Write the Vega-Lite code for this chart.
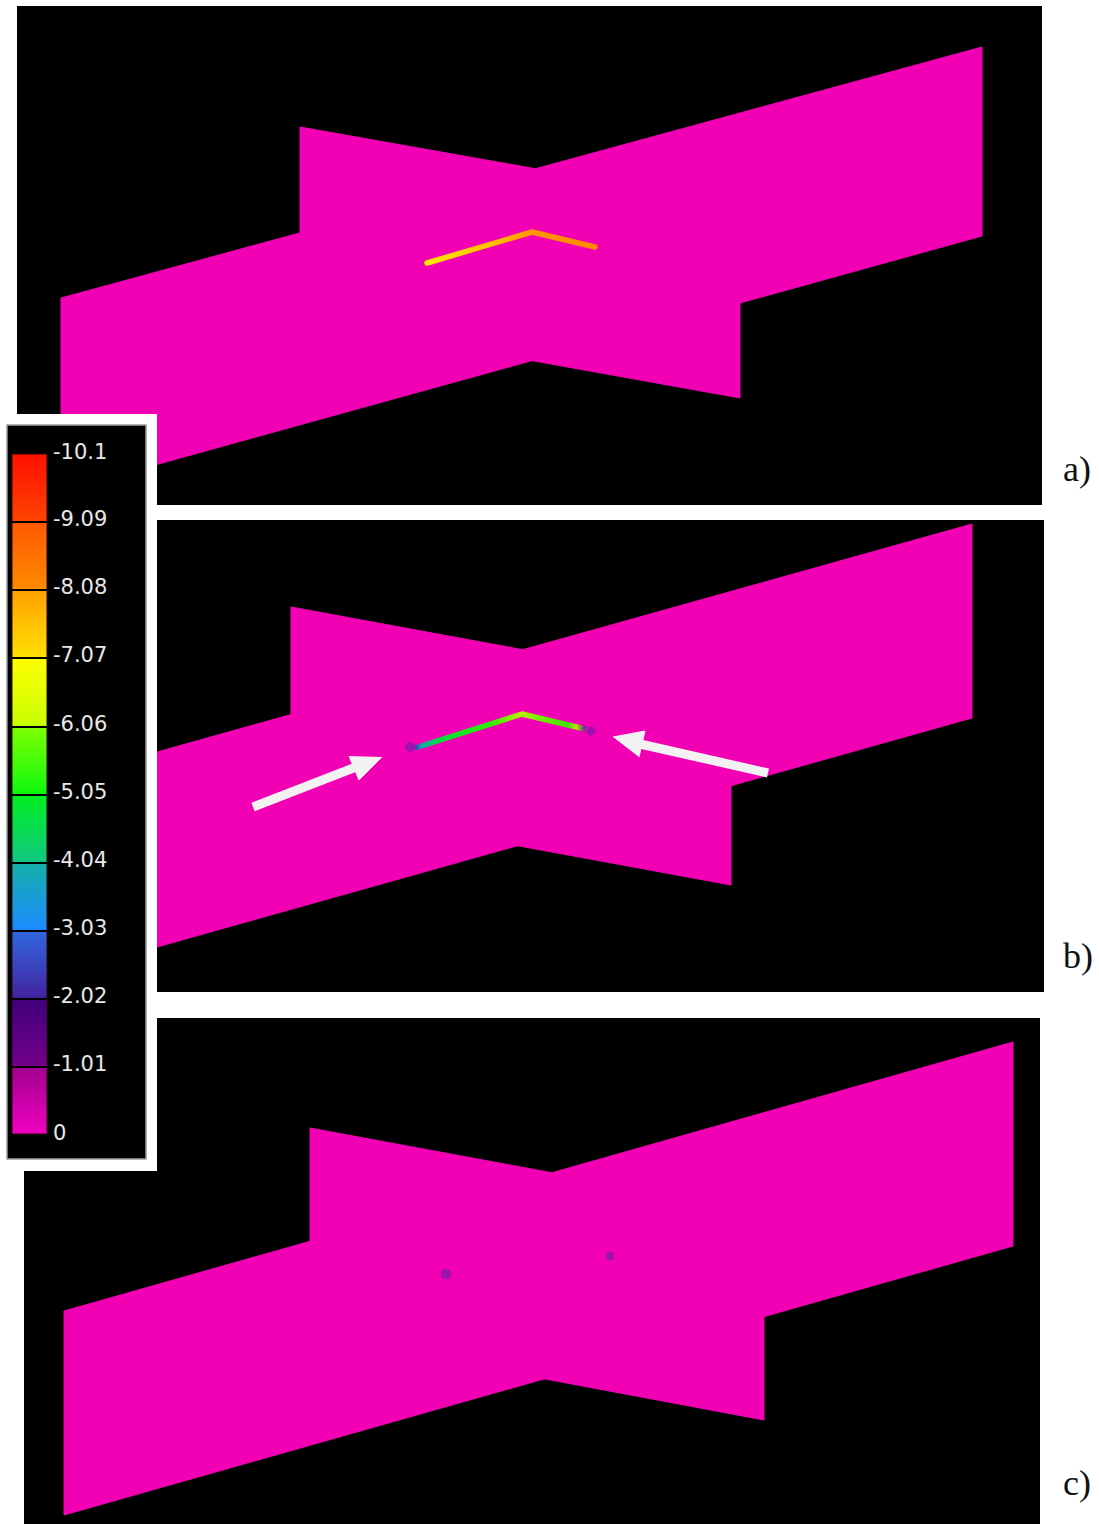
{
  "$schema": "https://vega.github.io/schema/vega-lite/v6.json",
  "width": 1099,
  "height": 1524,
  "autosize": {"type": "fit", "contains": "padding"},
  "padding": 0,
  "background": "white",
  "config": {"view": {"stroke": null}},
  "datasets": {
    "panels": [
      {"x1": 17, "x2": 1042, "y1": 6, "y2": 505},
      {"x1": 20, "x2": 1044, "y1": 520, "y2": 992},
      {"x1": 24, "x2": 1040, "y1": 1018, "y2": 1524}
    ],
    "planes": [
      {"shape": "a1", "i": 0, "x": 61, "y": 298}, {"shape": "a1", "i": 1, "x": 982, "y": 47}, {"shape": "a1", "i": 2, "x": 982, "y": 236}, {"shape": "a1", "i": 3, "x": 61, "y": 491}, {"shape": "a1", "i": 4, "x": 61, "y": 298},
      {"shape": "a2", "i": 0, "x": 300, "y": 127}, {"shape": "a2", "i": 1, "x": 740, "y": 205}, {"shape": "a2", "i": 2, "x": 740, "y": 398}, {"shape": "a2", "i": 3, "x": 300, "y": 319}, {"shape": "a2", "i": 4, "x": 300, "y": 127},
      {"shape": "b1", "i": 0, "x": 157, "y": 752}, {"shape": "b1", "i": 1, "x": 972, "y": 524}, {"shape": "b1", "i": 2, "x": 972, "y": 718}, {"shape": "b1", "i": 3, "x": 157, "y": 947}, {"shape": "b1", "i": 4, "x": 157, "y": 752},
      {"shape": "b2", "i": 0, "x": 291, "y": 607}, {"shape": "b2", "i": 1, "x": 731, "y": 688}, {"shape": "b2", "i": 2, "x": 731, "y": 885}, {"shape": "b2", "i": 3, "x": 291, "y": 804}, {"shape": "b2", "i": 4, "x": 291, "y": 607},
      {"shape": "c1", "i": 0, "x": 64, "y": 1311}, {"shape": "c1", "i": 1, "x": 1013, "y": 1042}, {"shape": "c1", "i": 2, "x": 1013, "y": 1246}, {"shape": "c1", "i": 3, "x": 64, "y": 1515}, {"shape": "c1", "i": 4, "x": 64, "y": 1311},
      {"shape": "c2", "i": 0, "x": 310, "y": 1128}, {"shape": "c2", "i": 1, "x": 764, "y": 1212}, {"shape": "c2", "i": 2, "x": 764, "y": 1420}, {"shape": "c2", "i": 3, "x": 310, "y": 1335}, {"shape": "c2", "i": 4, "x": 310, "y": 1128}
    ],
    "spots": [
      {"x": 410, "y": 747, "s": 90},
      {"x": 591, "y": 731, "s": 80},
      {"x": 446, "y": 1274, "s": 110},
      {"x": 610, "y": 1256, "s": 80}
    ],
    "trajA": [
      {"i": 0, "x": 427, "y": 263}, {"i": 1, "x": 532, "y": 232}, {"i": 2, "x": 595, "y": 247}
    ],
    "trajB": [
      {"i": 0, "x": 415, "y": 748}, {"i": 1, "x": 522, "y": 714}, {"i": 2, "x": 585, "y": 729}
    ],
    "shafts": [
      {"x1": 253, "y1": 807, "x2": 356, "y2": 767},
      {"x1": 768, "y1": 773, "x2": 640, "y2": 744}
    ],
    "heads": [
      {"arrow": 1, "i": 0, "x": 382, "y": 757}, {"arrow": 1, "i": 1, "x": 359, "y": 780}, {"arrow": 1, "i": 2, "x": 349, "y": 756},
      {"arrow": 2, "i": 0, "x": 613, "y": 737}, {"arrow": 2, "i": 1, "x": 645, "y": 731}, {"arrow": 2, "i": 2, "x": 639, "y": 757}
    ],
    "legendOuter": [{"x1": 0, "x2": 157, "y1": 414, "y2": 1171}],
    "legendInner": [{"x1": 7, "x2": 146, "y1": 425, "y2": 1159}],
    "colorbar": [{"x1": 12, "x2": 47, "y1": 454, "y2": 1134}],
    "ticks": [
      {"y": 522, "x1": 12, "x2": 47}, {"y": 590, "x1": 12, "x2": 47}, {"y": 658, "x1": 12, "x2": 47},
      {"y": 727, "x1": 12, "x2": 47}, {"y": 795, "x1": 12, "x2": 47}, {"y": 863, "x1": 12, "x2": 47},
      {"y": 931, "x1": 12, "x2": 47}, {"y": 999, "x1": 12, "x2": 47}, {"y": 1067, "x1": 12, "x2": 47}
    ],
    "labels": [
      {"label": "-10.1", "x": 53, "y": 453},
      {"label": "-9.09", "x": 53, "y": 520},
      {"label": "-8.08", "x": 53, "y": 588},
      {"label": "-7.07", "x": 53, "y": 656},
      {"label": "-6.06", "x": 53, "y": 725},
      {"label": "-5.05", "x": 53, "y": 793},
      {"label": "-4.04", "x": 53, "y": 861},
      {"label": "-3.03", "x": 53, "y": 929},
      {"label": "-2.02", "x": 53, "y": 997},
      {"label": "-1.01", "x": 53, "y": 1065},
      {"label": "0", "x": 53, "y": 1134}
    ],
    "panelLabels": [
      {"label": "a)", "x": 1063, "y": 470},
      {"label": "b)", "x": 1063, "y": 957},
      {"label": "c)", "x": 1063, "y": 1484}
    ]
  },
  "layer": [
    {
      "data": {"name": "panels"},
      "mark": {"type": "rect", "fill": "#000000"},
      "encoding": {
        "x": {"field": "x1", "type": "quantitative", "scale": {"domain": [0, 1099], "nice": false, "zero": false}, "axis": null},
        "x2": {"field": "x2"},
        "y": {"field": "y1", "type": "quantitative", "scale": {"domain": [0, 1524], "nice": false, "zero": false, "reverse": true}, "axis": null},
        "y2": {"field": "y2"}
      }
    },
    {
      "data": {"name": "planes"},
      "mark": {"type": "line", "fill": "#f200b4", "stroke": "#f200b4", "strokeWidth": 1, "interpolate": "linear"},
      "encoding": {
        "x": {"field": "x", "type": "quantitative"},
        "y": {"field": "y", "type": "quantitative"},
        "detail": {"field": "shape", "type": "nominal"},
        "order": {"field": "i", "type": "quantitative"}
      }
    },
    {
      "data": {"name": "spots"},
      "mark": {"type": "circle", "color": "#5a20a8", "opacity": 0.55},
      "encoding": {
        "x": {"field": "x", "type": "quantitative"},
        "y": {"field": "y", "type": "quantitative"},
        "size": {"field": "s", "type": "quantitative", "scale": null}
      }
    },
    {
      "data": {"name": "trajA"},
      "mark": {"type": "line", "strokeWidth": 5.5, "strokeCap": "round", "strokeJoin": "round",
        "stroke": {"gradient": "linear", "x1": 0, "y1": 0, "x2": 1, "y2": 0,
          "stops": [
            {"offset": 0, "color": "#ffe800"},
            {"offset": 0.4, "color": "#ffbe00"},
            {"offset": 0.62, "color": "#ff9600"},
            {"offset": 1, "color": "#ff8800"}
          ]}},
      "encoding": {
        "x": {"field": "x", "type": "quantitative"},
        "y": {"field": "y", "type": "quantitative"},
        "order": {"field": "i", "type": "quantitative"}
      }
    },
    {
      "data": {"name": "trajB"},
      "mark": {"type": "line", "strokeWidth": 5.5, "strokeCap": "butt", "strokeJoin": "round",
        "stroke": {"gradient": "linear", "x1": 0, "y1": 0, "x2": 1, "y2": 0,
          "stops": [
            {"offset": 0, "color": "#3a3aa8"},
            {"offset": 0.04, "color": "#14a8a8"},
            {"offset": 0.14, "color": "#00e040"},
            {"offset": 0.45, "color": "#30f000"},
            {"offset": 0.62, "color": "#b8f000"},
            {"offset": 0.72, "color": "#7cf000"},
            {"offset": 0.9, "color": "#40e000"},
            {"offset": 0.95, "color": "#c0e000"},
            {"offset": 1, "color": "#4a30a0"}
          ]}},
      "encoding": {
        "x": {"field": "x", "type": "quantitative"},
        "y": {"field": "y", "type": "quantitative"},
        "order": {"field": "i", "type": "quantitative"}
      }
    },
    {
      "data": {"name": "shafts"},
      "mark": {"type": "rule", "color": "#f2f2f2", "strokeWidth": 9, "strokeCap": "butt"},
      "encoding": {
        "x": {"field": "x1", "type": "quantitative"},
        "y": {"field": "y1", "type": "quantitative"},
        "x2": {"field": "x2"},
        "y2": {"field": "y2"}
      }
    },
    {
      "data": {"name": "heads"},
      "mark": {"type": "line", "fill": "#f2f2f2", "stroke": "#f2f2f2", "strokeWidth": 1},
      "encoding": {
        "x": {"field": "x", "type": "quantitative"},
        "y": {"field": "y", "type": "quantitative"},
        "detail": {"field": "arrow", "type": "nominal"},
        "order": {"field": "i", "type": "quantitative"}
      }
    },
    {
      "data": {"name": "legendOuter"},
      "mark": {"type": "rect", "fill": "#ffffff"},
      "encoding": {
        "x": {"field": "x1", "type": "quantitative"},
        "x2": {"field": "x2"},
        "y": {"field": "y1", "type": "quantitative"},
        "y2": {"field": "y2"}
      }
    },
    {
      "data": {"name": "legendInner"},
      "mark": {"type": "rect", "fill": "#000000", "stroke": "#9a9a9a", "strokeWidth": 1.5},
      "encoding": {
        "x": {"field": "x1", "type": "quantitative"},
        "x2": {"field": "x2"},
        "y": {"field": "y1", "type": "quantitative"},
        "y2": {"field": "y2"}
      }
    },
    {
      "data": {"name": "colorbar"},
      "mark": {"type": "rect", "stroke": "#2a0a0a", "strokeWidth": 1,
        "fill": {"gradient": "linear", "x1": 0, "y1": 0, "x2": 0, "y2": 1,
          "stops": [
            {"offset": 0, "color": "#ff1000"},
            {"offset": 0.099, "color": "#ff4400"},
            {"offset": 0.1, "color": "#ff5800"},
            {"offset": 0.199, "color": "#ff8a00"},
            {"offset": 0.2, "color": "#ffa000"},
            {"offset": 0.299, "color": "#ffe000"},
            {"offset": 0.3, "color": "#ffff00"},
            {"offset": 0.399, "color": "#c8ff00"},
            {"offset": 0.4, "color": "#80ff00"},
            {"offset": 0.499, "color": "#10f810"},
            {"offset": 0.5, "color": "#00f020"},
            {"offset": 0.599, "color": "#10c880"},
            {"offset": 0.6, "color": "#14b0a8"},
            {"offset": 0.699, "color": "#1c8cff"},
            {"offset": 0.7, "color": "#3068e0"},
            {"offset": 0.799, "color": "#4224a0"},
            {"offset": 0.8, "color": "#40007a"},
            {"offset": 0.899, "color": "#72008a"},
            {"offset": 0.9, "color": "#a0008e"},
            {"offset": 1, "color": "#f000c0"}
          ]}},
      "encoding": {
        "x": {"field": "x1", "type": "quantitative"},
        "x2": {"field": "x2"},
        "y": {"field": "y1", "type": "quantitative"},
        "y2": {"field": "y2"}
      }
    },
    {
      "data": {"name": "ticks"},
      "mark": {"type": "rule", "color": "#000000", "strokeWidth": 2},
      "encoding": {
        "x": {"field": "x1", "type": "quantitative"},
        "x2": {"field": "x2"},
        "y": {"field": "y", "type": "quantitative"}
      }
    },
    {
      "data": {"name": "labels"},
      "mark": {"type": "text", "align": "left", "baseline": "middle", "font": "DejaVu Sans", "fontSize": 21, "fill": "#e8e8e8"},
      "encoding": {
        "x": {"field": "x", "type": "quantitative"},
        "y": {"field": "y", "type": "quantitative"},
        "text": {"field": "label", "type": "nominal"}
      }
    },
    {
      "data": {"name": "panelLabels"},
      "mark": {"type": "text", "align": "left", "baseline": "middle", "font": "Liberation Serif", "fontSize": 36, "fill": "#111111"},
      "encoding": {
        "x": {"field": "x", "type": "quantitative"},
        "y": {"field": "y", "type": "quantitative"},
        "text": {"field": "label", "type": "nominal"}
      }
    }
  ]
}
